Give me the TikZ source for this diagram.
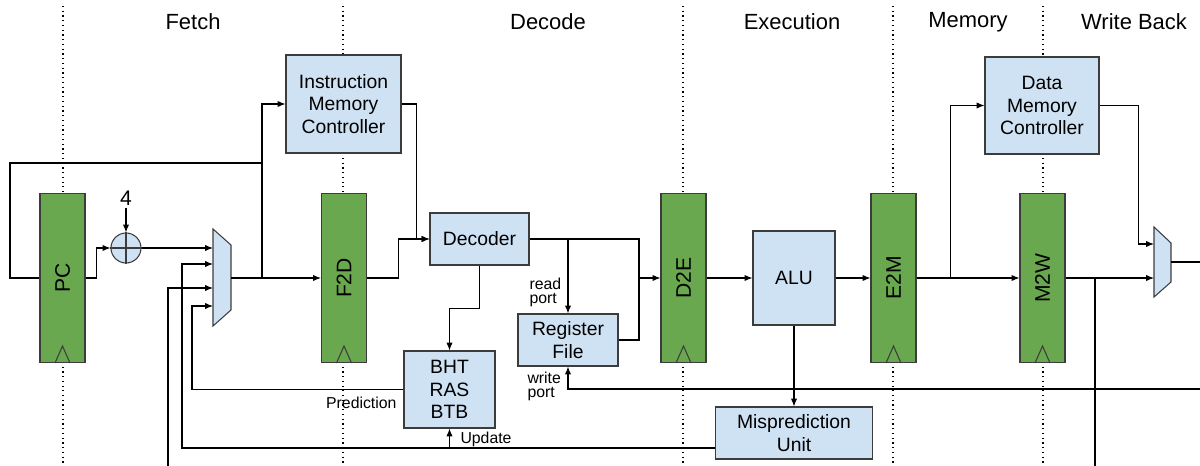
\documentclass[tikz,border=0pt]{standalone}
\usepackage{fontspec}
\setmainfont{Liberation Sans}
\usepackage{graphicx}
\usetikzlibrary{arrows.meta}
\definecolor{regfill}{HTML}{6AA84F}
\definecolor{unitfill}{HTML}{CFE2F3}
\definecolor{edge}{HTML}{3C3C3C}

\begin{document}
\begin{tikzpicture}
		[x=0.02cm, y=-0.02cm, line width=0.6pt, >={Latex[length=4.5pt,width=3.6pt]},
		 reg/.style={draw=edge, fill=regfill, minimum width=0.9cm, minimum height=3.38cm, inner sep=0pt, font=\fontsize{12}{14}\selectfont},
		 unit/.style={draw=edge, fill=unitfill, align=center, inner sep=0pt, font=\fontsize{11}{12.8}\selectfont},
		 mux/.style={draw=edge, fill=unitfill},
		 stage/.style={font=\fontsize{12.5}{15}\selectfont},
		 small/.style={font=\fontsize{9}{8}\selectfont, align=left, inner sep=0pt},
		 phase/.style={dotted, line width=0.7pt}]
		\useasboundingbox (0,0) rectangle (1200,466);
		
		% stage borders and names
		\foreach \x in {63,343,683,893,1043}
			\draw[phase] (\x,6) -- (\x,466);
		\node[stage] (fetch) at (193,22) {Fetch};
		\node[stage] (decode) at (548,22) {Decode};
		\node[stage] (exec) at (792,22) {Execution};
		\node[stage] (mem) at (968,22) {Memory};
		\node[stage] (wb) at (1134,22) {Write Back};
		
		% pipeline registers
		\node[reg] (PC) at (62.5,278) {\rotatebox{90}{PC}};
		\node[reg] (F2D) at (344,278) {\rotatebox{90}{F2D}};
		\node[reg] (D2E) at (683.5,278) {\rotatebox{90}{D2E}};
		\node[reg] (E2M) at (893.5,278) {\rotatebox{90}{E2M}};
		\node[reg] (M2W) at (1042.5,278) {\rotatebox{90}{M2W}};
		\foreach \r in {PC,F2D,D2E,E2M,M2W}
			\draw[edge] (\r.south) ++(-7.5,0) -- ++(7.5,-17) -- ++(7.5,17);
		
		% units
		\node[unit, minimum width=2.3cm, minimum height=1.96cm] (IMC) at (343.5,104) {Instruction\\Memory\\Controller};
		\node[unit, minimum width=2.28cm, minimum height=1.94cm] (DMC) at (1042,105.5) {Data\\Memory\\Controller};
		\node[unit, minimum width=1.98cm, minimum height=1.04cm] (Dec) at (479.5,239) {Decoder};
		\node[unit, minimum width=2cm, minimum height=1.04cm] (RF) at (568,340) {Register\\File};
		\node[unit, minimum width=1.82cm, minimum height=1.54cm] (BHT) at (449.5,389.5) {BHT\\RAS\\BTB};
		\node[unit, minimum width=1.64cm, minimum height=1.88cm] (ALU) at (794,278) {ALU};
		\node[unit, minimum width=3.14cm, minimum height=1.04cm] (Mis) at (794,433) {Misprediction\\Unit};
		
		% adder
		\node[circle, draw=edge, fill=unitfill, minimum size=0.6cm, inner sep=0pt] (adder) at (126,248) {};
		\draw[edge] (adder.north) -- (adder.south) (adder.west) -- (adder.east);
		\node[font=\fontsize{12}{14}\selectfont, inner sep=1pt] (four) at (126,198) {4};
		
		% muxes
		\draw[mux] (213,229) -- (231,245) -- (231,310) -- (213,326) -- cycle;
		\coordinate (m1a) at (213,248);
		\coordinate (m1b) at (213,264);
		\coordinate (m1c) at (213,288);
		\coordinate (m1d) at (213,306);
		\coordinate (m1out) at (231,278);
		\draw[mux] (1154,227) -- (1171,243) -- (1171,282) -- (1154,297) -- cycle;
		\coordinate (m2a) at (1154,244);
		\coordinate (m2b) at (1154,278);
		\coordinate (m2out) at (1171,262);
		
		% loose ends
		\coordinate (fb) at (262,278);
		\coordinate (brin) at (168,466);
		\coordinate (wpin) at (1200,389);
		\coordinate (wbdown) at (1095,466);
		\coordinate (wbend) at (1200,262);
		\coordinate (dj) at (639,278);
		\coordinate (upd) at ([yshift=-0.3cm]Mis.west);
		
		% fetch
		\path[->] (four) edge (adder);
		\draw[->] (PC.east) -- ++(11,0) |- (adder.west);
		\draw[->] (adder.east) -- (m1a);
		\draw[->] (m1out) -- (F2D.west);
		\draw (fb) -- (262,163) -| (10,278) -- (PC.west);
		\draw[->] (fb) |- (IMC.west);
		\draw[->] (brin) |- (m1c);
		
		% decode
		\draw[->] (IMC.east) -- ++(15,0) |- (Dec.west);
		\draw[->] (F2D.east) -- ++(31,0) |- (Dec.west);
		\draw[->] (Dec.south) -- ++(0,43) -| (BHT.north);
		\draw (Dec.east) -| (dj);
		\draw (RF.east) -| (dj);
		\draw[->] (dj) -- (D2E.west);
		\draw[->] (Dec.east -| RF.north) -- (RF.north);
		\draw[->] (wpin) -| (RF.south);
		\node[small, anchor=west] (rdport) at (529,292) {read\\port};
		\node[small, anchor=west] (wrport) at (527,386.5) {write\\port};
		
		% prediction and update
		\draw[->] (BHT.west) -| (192,306) -- (m1d);
		\node[small, anchor=east] (pred) at (397,403) {Prediction};
		\draw[->] (upd) -| (182,264) -- (m1b);
		\draw[->] (BHT.south |- upd) -- (BHT.south);
		\node[small, anchor=west] (updlbl) at (460,439) {Update};
		
		% execute, memory, write back
		\draw[->] (D2E.east) -- (ALU.west);
		\draw[->] (ALU.east) -- (E2M.west);
		\draw[->] (ALU.south) -- (Mis.north);
		\draw[->] (E2M.east) -- (M2W.west);
		\draw[->] (E2M.east) -- ++(34,0) |- (DMC.west);
		\draw[->] (DMC.east) -- ++(39,0) |- (m2a);
		\draw[->] (M2W.east) -- (m2b);
		\draw (M2W.east -| wbdown) -- (wbdown);
		\draw (m2out) -- (wbend);
		\end{tikzpicture}
\end{document}
